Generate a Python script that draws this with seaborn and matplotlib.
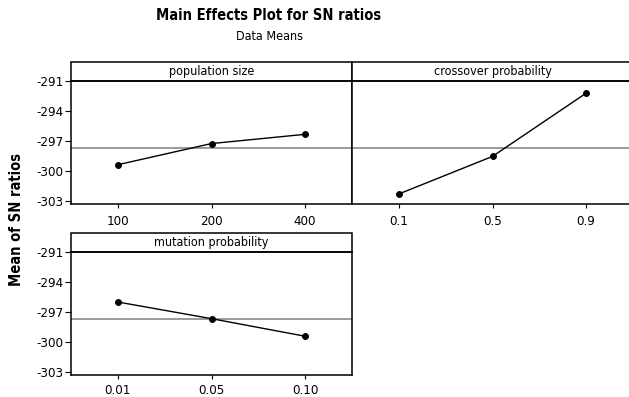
import numpy as np
import pandas as pd
import matplotlib
matplotlib.use("Agg")
import matplotlib.pyplot as plt
from matplotlib.patches import Rectangle
import seaborn as sns

# Mean SN ratio at each factor level
pop_levels = ["100", "200", "400"]
pop_sn = [-299.34, -297.23, -296.31]

cross_levels = ["0.1", "0.5", "0.9"]
cross_sn = [-302.25, -298.51, -292.21]

mut_levels = ["0.01", "0.05", "0.10"]
mut_sn = [-295.98, -297.64, -299.39]

factor_names = ["population size", "crossover probability", "mutation probability"]
y_ticks = [-291, -294, -297, -300, -303]

df = pd.concat([
    pd.DataFrame({"factor": factor_names[0], "level": pop_levels, "sn": pop_sn}),
    pd.DataFrame({"factor": factor_names[1], "level": cross_levels, "sn": cross_sn}),
    pd.DataFrame({"factor": factor_names[2], "level": mut_levels, "sn": mut_sn}),
], ignore_index=True)
grand_mean = df["sn"].mean()

sns.set_theme(style="white")
plt.rcParams["font.family"] = ["DejaVu Sans"]
plt.rcParams["font.stretch"] = "condensed"

W, H = 629, 397
fig = plt.figure(figsize=(W / 100, H / 100), dpi=100)


def px_axes(x0, y0, x1, y1):
    return fig.add_axes([x0 / W, 1 - y1 / H, (x1 - x0) / W, (y1 - y0) / H])


panels = [
    (px_axes(71, 80.5, 352, 204), factor_names[0], True, 5),
    (px_axes(352, 80.5, 633, 204), factor_names[1], False, 5),
    (px_axes(71, 251.5, 352, 375), factor_names[2], True, 3.5),
]
strip_px = 19

for ax, name, show_y, xpad in panels:
    sub = df[df["factor"] == name]
    ax.axhline(grand_mean, color="#808080", lw=1.1, zorder=1)
    sns.pointplot(data=sub, x="level", y="sn", color="black", errorbar=None,
                  markers="o", markersize=4.2, linewidth=1.0, ax=ax, zorder=3)
    ax.set_xlim(-0.5, 2.5)
    ax.set_ylim(-303.25, -290.95)
    ax.set_xlabel("")
    ax.set_ylabel("")
    for s in ax.spines.values():
        s.set_visible(True)
        s.set_color("black")
        s.set_linewidth(1.1)
    ax.tick_params(axis="x", bottom=True, length=3, width=0.8, pad=xpad,
                   labelsize=9.5, colors="black")
    ax.set_yticks(y_ticks)
    if show_y:
        ax.tick_params(axis="y", left=True, length=4, width=0.8, pad=1.5,
                       labelsize=9.5, colors="black")
        ax.set_yticklabels([str(v) for v in y_ticks])
    else:
        ax.tick_params(axis="y", left=False, labelleft=False)
    # facet header strip
    h = strip_px / (ax.get_position().height * H)
    ax.add_patch(Rectangle((0, 1), 1, h, transform=ax.transAxes, clip_on=False,
                           facecolor="white", edgecolor="black", lw=1.1))
    ax.text(0.5, 1 + h / 2, name, transform=ax.transAxes, ha="center",
            va="center", fontsize=9, color="black")

fig.text(269 / W, 1 - 16 / H, "Main Effects Plot for SN ratios", ha="center",
         va="center", fontsize=10.5, fontweight="bold", color="black")
fig.text(269 / W, 1 - 37 / H, "Data Means", ha="center", va="center",
         fontsize=9, color="black")
fig.text(17 / W, 1 - 220 / H, "Mean of SN ratios", rotation=90, ha="center",
         va="center", fontsize=10.5, fontweight="bold", color="black")

fig.savefig("out.png", dpi=100)
